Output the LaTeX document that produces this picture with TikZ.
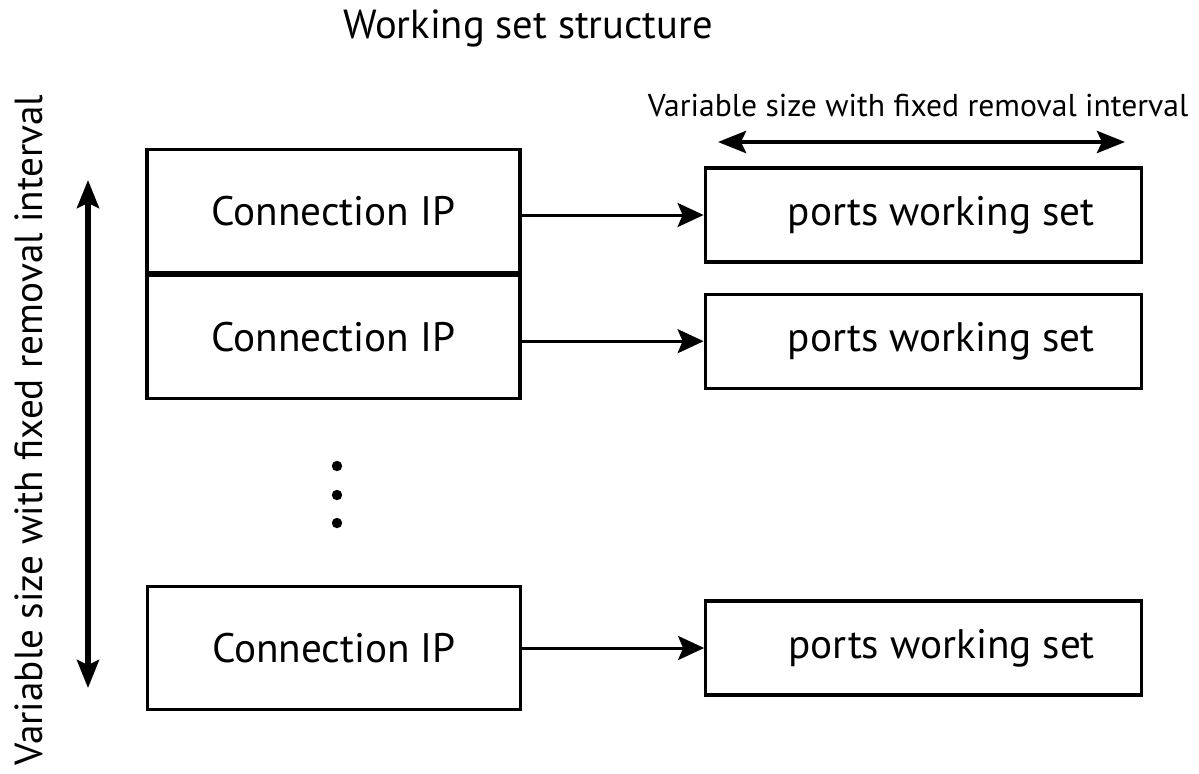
\documentclass[tikz,border=0pt]{standalone}
\usepackage{fontspec}
\setmainfont{PT Sans}
\usetikzlibrary{positioning,arrows.meta}

\begin{document}
\begin{tikzpicture}[x=0.5pt,y=-0.5pt,>={Stealth[length=13pt,width=12pt,inset=2.5pt]},
   node distance=0pt and 91pt,
   every node/.style={font=\fontsize{20.6}{24}\selectfont},
   connbox/.style={draw,line width=1.6pt,minimum width=186.5pt,minimum height=61.5pt,inner sep=0pt},
   portbox/.style={draw,line width=1.6pt,minimum width=218pt,minimum height=47pt,inner sep=0pt},
   span/.style={line width=2.2pt,<->,>={Stealth[length=14pt,width=11pt,inset=2.5pt]}}]
  \useasboundingbox (0,0) rectangle (1199,773);
  \node (title) at (528,28) [font=\fontsize{20.3}{24}\selectfont] {Working set structure};
  \node (hlabel) at (918,105) [font=\fontsize{15.8}{19}\selectfont] {Variable size with fixed removal interval};
  \node (vlabel) at (29,430) [rotate=90,font=\fontsize{19.6}{23}\selectfont] {Variable size with fixed removal interval};
  % connection table
  \node (conn1) at (333.5,211) [connbox] {Connection IP};
  \node (conn2) [connbox,below=of conn1] {Connection IP};
  \node (conn3) at (334,648) [connbox] {Connection IP};
  \foreach \y in {466,495,523}
    \fill (337,\y) circle (2.6pt);
  % working sets
  \node (port1) [portbox,right=of conn1,yshift=-2pt] {\hspace*{18pt}ports working set};
  \node (port2) [portbox,right=of conn2,yshift=-2pt] {\hspace*{18pt}ports working set};
  \node (port3) [portbox,right=of conn3] {\hspace*{18pt}ports working set};
  \draw[->,line width=1.5pt] (port1.west -| conn1.east) -- (port1.west);
  \draw[->,line width=1.5pt] (port2.west -| conn2.east) -- (port2.west);
  \draw[->,line width=1.5pt] (port3.west -| conn3.east) -- (port3.west);
  % size arrows
  \coordinate (hleft) at (718,142);
  \coordinate (hright) at (1125,142);
  \coordinate (vtop) at (88,180);
  \coordinate (vbot) at (88,688);
  \draw[span] (hleft) -- (hright);
  \draw[span,line width=2.6pt] (vtop) -- (vbot);
\end{tikzpicture}
\end{document}
